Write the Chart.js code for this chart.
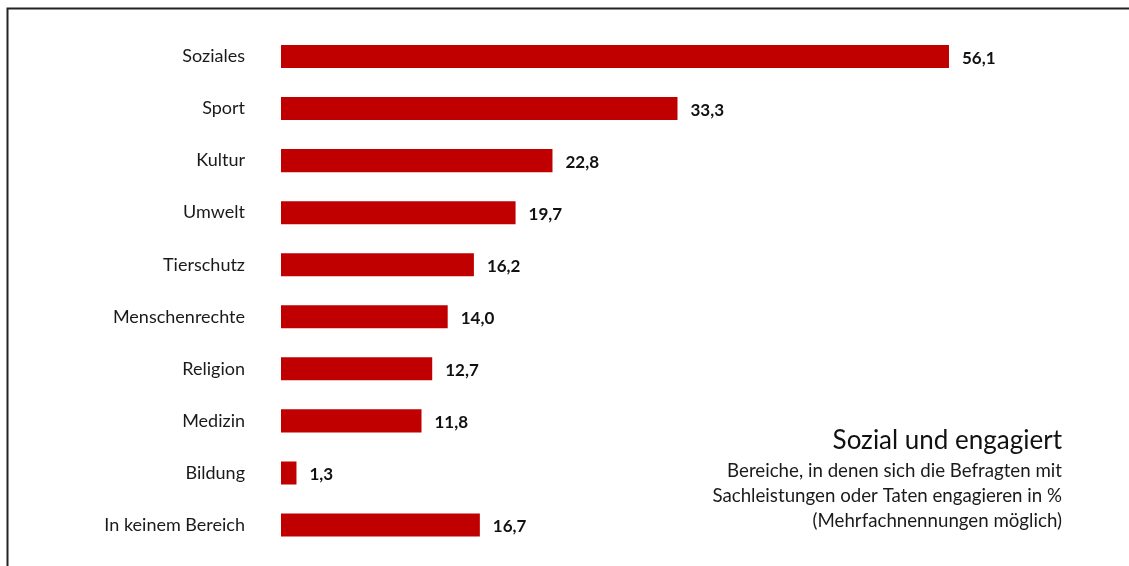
<!DOCTYPE html>
<html lang="de">
<head>
<meta charset="utf-8">
<script src="https://cdn.jsdelivr.net/npm/chart.js@4/dist/chart.umd.min.js"></script>
<style>
  html, body { margin: 0; padding: 0; background: #fff; }
  #wrap { width: 1129px; height: 566px; position: relative; }
</style>
</head>
<body>
<div id="wrap"><canvas id="chart" width="1129" height="566"></canvas></div>
<script>
// Bereiche des Engagements (Sachleistungen / Taten), Anteil in %
const bereiche = ["Soziales", "Sport", "Kultur", "Umwelt", "Tierschutz", "Menschenrechte", "Religion", "Medizin", "Bildung", "In keinem Bereich"];
const anteile = [56.1, 33.3, 22.8, 19.7, 16.2, 14.0, 12.7, 11.8, 1.3, 16.7];
const titel = "Sozial und engagiert";
const untertitel = [
  "Bereiche, in denen sich die Befragten mit",
  "Sachleistungen oder Taten engagieren in %",
  "(Mehrfachnennungen möglich)",
];

const FONT = "Lato, 'Open Sans', sans-serif";
const ROT = "#c00000";

const fmt = (v) => v.toLocaleString("de-DE", { minimumFractionDigits: 1, maximumFractionDigits: 1 });

// Werte rechts neben die Balken schreiben
const werteLabels = {
  id: "werteLabels",
  afterDatasetsDraw(chart) {
    const { ctx } = chart;
    const meta = chart.getDatasetMeta(0);
    ctx.save();
    ctx.font = "bold 17px " + FONT;
    ctx.fillStyle = "#111";
    ctx.textAlign = "left";
    ctx.textBaseline = "middle";
    meta.data.forEach((bar, i) => {
      ctx.fillText(fmt(anteile[i]), bar.x + 13, bar.y + 2);
    });
    ctx.restore();
  },
};

// Rahmen oben/links und Titelblock unten rechts
const rahmenUndTitel = {
  id: "rahmenUndTitel",
  afterDraw(chart) {
    const { ctx } = chart;
    ctx.save();
    ctx.strokeStyle = "#222";
    ctx.lineWidth = 2;
    ctx.beginPath();
    ctx.moveTo(7.5, 566);
    ctx.lineTo(7.5, 8.5);
    ctx.lineTo(1129, 8.5);
    ctx.stroke();

    ctx.textAlign = "right";
    ctx.textBaseline = "alphabetic";
    ctx.fillStyle = "#111";
    ctx.font = "26px " + FONT;
    ctx.fillText(titel, 1062, 449);
    ctx.font = "18.7px " + FONT;
    ctx.fillStyle = "#1a1a1a";
    untertitel.forEach((z, i) => ctx.fillText(z, 1062, 477 + i * 25));
    ctx.restore();
  },
};

new Chart(document.getElementById("chart"), {
  type: "bar",
  data: {
    labels: bereiche,
    datasets: [{
      data: anteile,
      backgroundColor: ROT,
      categoryPercentage: 1,
      barPercentage: 0.442,
    }],
  },
  options: {
    indexAxis: "y",
    responsive: false,
    animation: false,
    layout: { padding: { top: 30.5, bottom: 15, left: 0, right: 14.5 } },
    plugins: { legend: { display: false }, tooltip: { enabled: false } },
    scales: {
      x: { display: false, min: 0, max: 70 },
      y: {
        grid: { display: false, drawTicks: false },
        border: { display: false },
        ticks: { color: "#1a1a1a", font: { family: FONT, size: 18 }, padding: 36 },
        afterFit: (s) => { s.width = 281; s.paddingTop = 0; s.paddingBottom = 0; },
      },
    },
  },
  plugins: [werteLabels, rahmenUndTitel],
});
</script>
</body>
</html>
